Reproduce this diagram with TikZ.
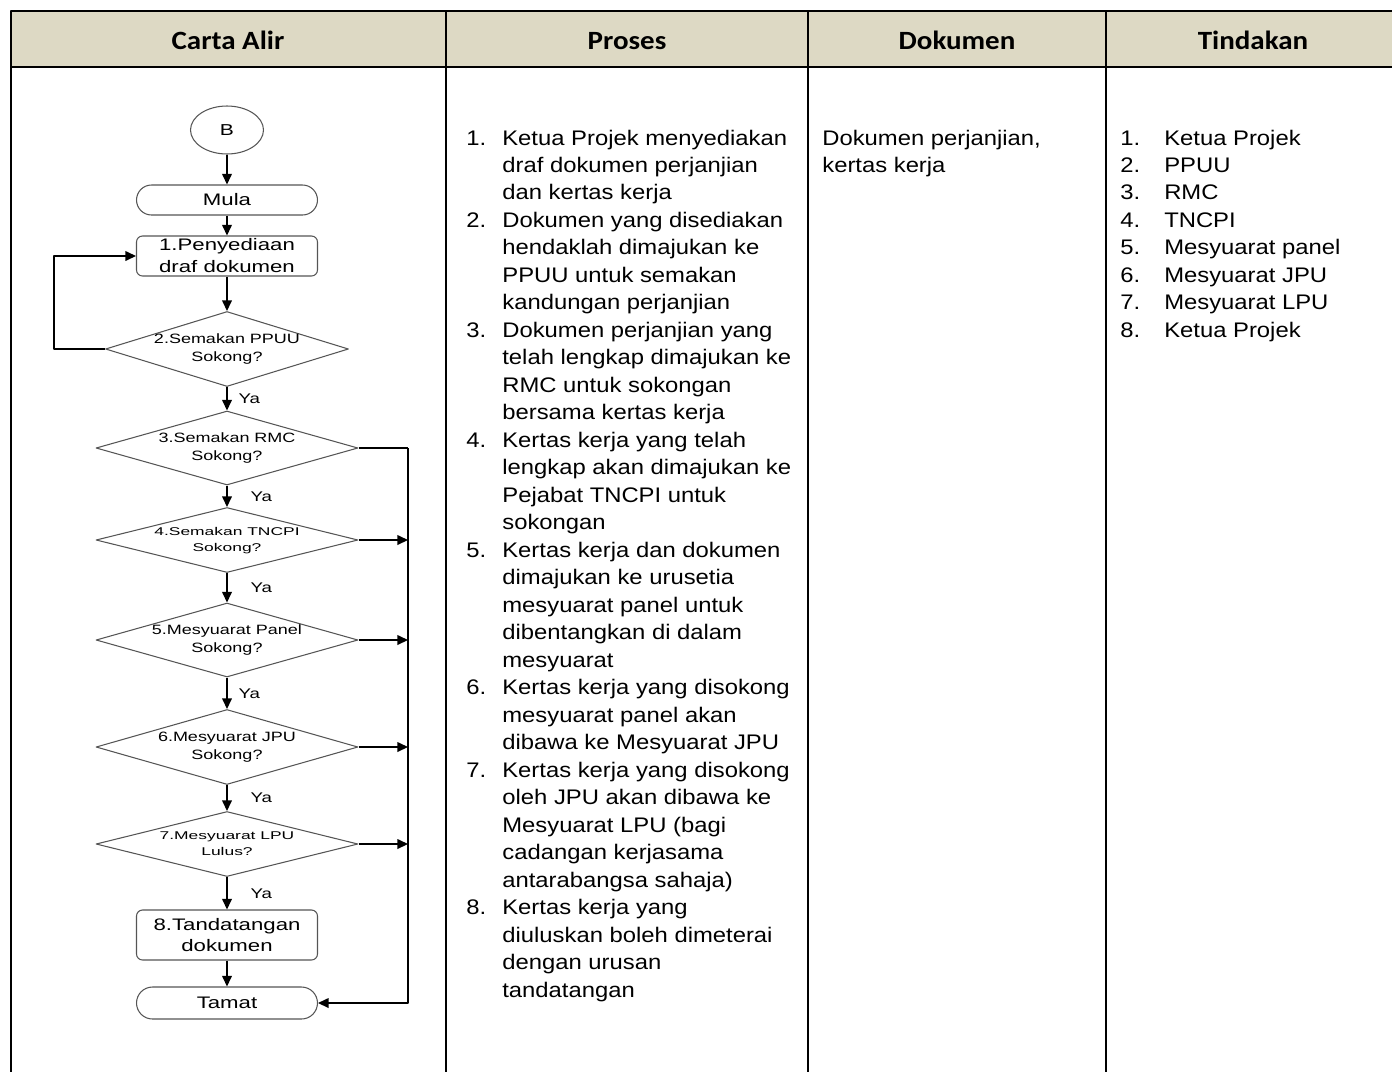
\documentclass[tikz,border=0pt]{standalone}
\usepackage{fontspec}
\setmainfont{Liberation Sans}
\newfontfamily\teks[FakeStretch=1.13]{Liberation Sans}
\newfontfamily\carta[FakeStretch=1.33]{Liberation Sans}
\newfontfamily\cartakecil[FakeStretch=1.55]{Liberation Sans}
\newfontfamily\tajuk[FakeStretch=1.1]{Carlito}
\usetikzlibrary{shapes.geometric,arrows.meta}
\definecolor{tajukbg}{RGB}{221,217,196}
\definecolor{garis}{RGB}{85,85,85}
\newcommand{\dua}[2]{\makebox[0pt]{\begin{tabular}{@{}c@{}}#1\\#2\end{tabular}}}
\begin{document}
\begin{tikzpicture}[x=0.02cm, y=-0.02cm, >={Triangle[length=6pt,width=5.5pt]}, line join=round,
	terminal/.style={draw=garis, line width=0.6pt, rounded corners=0.3cm, minimum width=3.62cm, minimum height=0.6cm, inner sep=0pt, font=\carta\fontsize{9.5}{12}\selectfont},
	kotak/.style={draw=garis, line width=0.6pt, rounded corners=0.12cm, minimum width=3.62cm, inner sep=0pt, align=center, font=\carta\fontsize{9.5}{12.5}\selectfont},
	semak/.style={diamond, draw=garis, line width=0.6pt, inner sep=0pt, minimum width=5.24cm, font=\carta\fontsize{7.7}{10.5}\selectfont},
	semakkecil/.style={semak, minimum height=1.3cm, font=\cartakecil\fontsize{6.4}{9}\selectfont},
	ya/.style={anchor=west, inner sep=0pt, font=\carta\fontsize{8}{8}\selectfont},
	aliran/.style={->, line width=0.75pt},
	tajukteks/.style={anchor=base, font=\tajuk\bfseries\fontsize{15}{18}\selectfont},
	isi/.style={anchor=base west, inner sep=0pt, font=\teks\fontsize{12}{15.65}\selectfont}]
	\useasboundingbox (0,0) rectangle (1392,1072);
	% Jadual
	\fill[tajukbg] (11,11) rectangle (1392,67);
	\draw[line width=1.4pt] (1392,11) -- (11,11) -- (11,1072);
	\draw[line width=1.4pt] (11,67) -- (1392,67);
	\foreach \x in {446,808,1106} \draw[line width=1.1pt] (\x,11) -- (\x,1072);
	\node[tajukteks] (hCarta) at (228,49) {Carta Alir};
	\node[tajukteks] (hProses) at (627,49) {Proses};
	\node[tajukteks] (hDokumen) at (957,49) {Dokumen};
	\node[tajukteks] (hTindakan) at (1253,49) {Tindakan};
	% Carta alir
	\node[ellipse, draw=garis, line width=0.6pt, minimum width=1.46cm, minimum height=0.96cm, inner sep=0pt, font=\carta\fontsize{9}{9}\selectfont] (B) at (227,130) {B};
	\node[terminal] (mula) at (227,200) {Mula};
	\node[kotak, minimum height=0.8cm] (p1) at (227,256) {1.Penyediaan\\draf dokumen};
	\node[semak, minimum width=4.86cm, minimum height=1.5cm] (d2) at (227,349) {\dua{2.Semakan PPUU}{Sokong?}};
	\node[semak, minimum height=1.48cm] (d3) at (227,448) {\dua{3.Semakan RMC}{Sokong?}};
	\node[semakkecil] (d4) at (227,540) {\dua{4.Semakan TNCPI}{Sokong?}};
	\node[semak, minimum height=1.48cm] (d5) at (227,640) {\dua{5.Mesyuarat Panel}{Sokong?}};
	\node[semak, minimum height=1.5cm] (d6) at (227,747) {\dua{6.Mesyuarat JPU}{Sokong?}};
	\node[semakkecil] (d7) at (227,844) {\dua{7.Mesyuarat LPU}{Lulus?}};
	\node[kotak, minimum height=1cm] (p8) at (227,935) {8.Tandatangan\\dokumen};
	\node[terminal, minimum height=0.64cm, rounded corners=0.32cm] (tamat) at (227,1003) {Tamat};
	\coordinate (bus) at (408,448);
	\draw[aliran] (B) -- (mula);
	\draw[aliran] (mula) -- (p1);
	\draw[aliran] (p1) -- (d2);
	\draw[aliran] (d2.west) -- ++(-51,0) |- (p1.west);
	\draw[aliran] (d2) -- node[ya, xshift=0.22cm]{Ya} (d3);
	\draw[aliran] (d3) -- node[ya, xshift=0.46cm]{Ya} (d4);
	\draw[aliran] (d4) -- node[ya, xshift=0.46cm]{Ya} (d5);
	\draw[aliran] (d5) -- node[ya, xshift=0.22cm]{Ya} (d6);
	\draw[aliran] (d6) -- node[ya, xshift=0.46cm]{Ya} (d7);
	\draw[aliran] (d7) -- node[ya, xshift=0.46cm]{Ya} (p8);
	\draw[aliran] (p8) -- (tamat);
	\draw[line width=0.75pt] (d3.east) -- (bus);
	\draw[aliran] (bus) |- (tamat.east);
	\foreach \d in {d4,d5,d6,d7} \draw[aliran] (\d.east) -- (\d.east -| bus);
	% Proses
	\node[isi] (proses) at (466,145) {\begin{tabular}[t]{@{}p{20.5pt}@{}l@{}}
		1. & Ketua Projek menyediakan\\ & draf dokumen perjanjian\\ & dan kertas kerja\\
		2. & Dokumen yang disediakan\\ & hendaklah dimajukan ke\\ & PPUU untuk semakan\\ & kandungan perjanjian\\
		3. & Dokumen perjanjian yang\\ & telah lengkap dimajukan ke\\ & RMC untuk sokongan\\ & bersama kertas kerja\\
		4. & Kertas kerja yang telah\\ & lengkap akan dimajukan ke\\ & Pejabat TNCPI untuk\\ & sokongan\\
		5. & Kertas kerja dan dokumen\\ & dimajukan ke urusetia\\ & mesyuarat panel untuk\\ & dibentangkan di dalam\\ & mesyuarat\\
		6. & Kertas kerja yang disokong\\ & mesyuarat panel akan\\ & dibawa ke Mesyuarat JPU\\
		7. & Kertas kerja yang disokong\\ & oleh JPU akan dibawa ke\\ & Mesyuarat LPU (bagi\\ & cadangan kerjasama\\ & antarabangsa sahaja)\\
		8. & Kertas kerja yang\\ & diuluskan boleh dimeterai\\ & dengan urusan\\ & tandatangan
	\end{tabular}};
	% Dokumen dan Tindakan
	\node[isi] (dokumen) at (822,145) {\begin{tabular}[t]{@{}l@{}}Dokumen perjanjian,\\ kertas kerja\end{tabular}};
	\node[isi] (tindakan) at (1120,145) {\begin{tabular}[t]{@{}p{25pt}@{}l@{}}
		1. & Ketua Projek\\ 2. & PPUU\\ 3. & RMC\\ 4. & TNCPI\\
		5. & Mesyuarat panel\\ 6. & Mesyuarat JPU\\ 7. & Mesyuarat LPU\\ 8. & Ketua Projek
	\end{tabular}};
\end{tikzpicture}
\end{document}
